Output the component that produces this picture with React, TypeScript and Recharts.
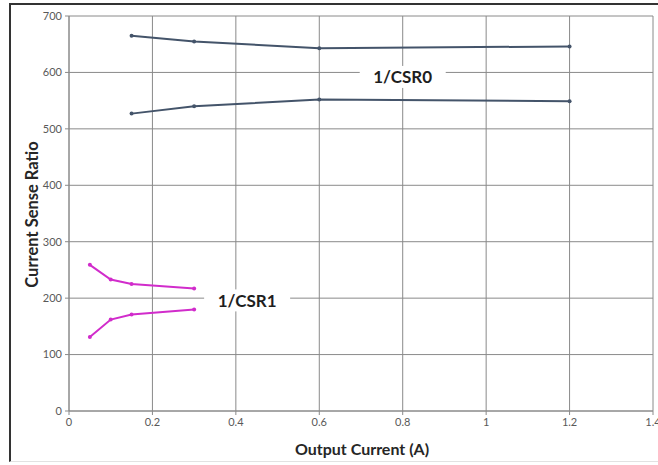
import { LineChart, Line, XAxis, YAxis, CartesianGrid, ReferenceDot, Label } from "recharts";

// 1/CSR0 – two curves (upper and lower bound)
const csr0Upper = [
  { x: 0.15, y: 665 },
  { x: 0.3, y: 655 },
  { x: 0.6, y: 643 },
  { x: 1.2, y: 646 },
];
const csr0Lower = [
  { x: 0.15, y: 527 },
  { x: 0.3, y: 540 },
  { x: 0.6, y: 552 },
  { x: 1.2, y: 549 },
];

// 1/CSR1 – two curves
const csr1Upper = [
  { x: 0.05, y: 259 },
  { x: 0.1, y: 233 },
  { x: 0.15, y: 225 },
  { x: 0.3, y: 217 },
];
const csr1Lower = [
  { x: 0.05, y: 131 },
  { x: 0.1, y: 162 },
  { x: 0.15, y: 171 },
  { x: 0.3, y: 180 },
];

const xTicks = [0, 0.2, 0.4, 0.6, 0.8, 1, 1.2, 1.4];
const yTicks = [0, 100, 200, 300, 400, 500, 600, 700];

const annotations = [
  { x: 0.8, y: 592, text: "1/CSR0" },
  { x: 0.427, y: 196, text: "1/CSR1" },
];

const GREY = "#44546a";
const MAGENTA = "#d12ccb";
const FONT = "Lato, 'Open Sans', sans-serif";

const AnnotationShape = (props: any) => {
  const { cx, cy, text } = props;
  const w = 86;
  const h = 22;
  return (
    <g>
      <rect x={cx - w / 2} y={cy - h / 2} width={w} height={h} fill="#fff" />
      <text
        x={cx}
        y={cy}
        textAnchor="middle"
        dominantBaseline="central"
        fontFamily={FONT}
        fontWeight="bold"
        fontSize={17}
        fill="#1e1e1e"
      >
        {text}
      </text>
    </g>
  );
};

const YTitle = (props: any) => {
  const { x, y, height } = props.viewBox;
  const cx = x + 22;
  const cy = y + height / 2 + 1;
  return (
    <text
      x={cx}
      y={cy}
      transform={`rotate(-90 ${cx} ${cy})`}
      textAnchor="middle"
      dominantBaseline="central"
      fontFamily={FONT}
      fontWeight="bold"
      fontSize={16.5}
      fill="#262626"
    >
      Current Sense Ratio
    </text>
  );
};

const XTitle = (props: any) => {
  const { x, y, width } = props.viewBox;
  const cx = x + width / 2 + 1;
  const cy = y + 37;
  return (
    <text
      x={cx}
      y={cy}
      textAnchor="middle"
      dominantBaseline="central"
      fontFamily={FONT}
      fontWeight="bold"
      fontSize={16}
      fill="#262626"
    >
      Output Current (A)
    </text>
  );
};

const tickStyle = { fontFamily: FONT, fontSize: 11, fill: "#595959" };

export default function App() {
  const lines = [
    { key: "c0u", data: csr0Upper, color: GREY },
    { key: "c0l", data: csr0Lower, color: GREY },
    { key: "c1u", data: csr1Upper, color: MAGENTA },
    { key: "c1l", data: csr1Lower, color: MAGENTA },
  ];

  return (
    <div
      style={{
        position: "absolute",
        left: 0,
        top: 0,
        width: 658,
        height: 465,
        background: "#fff",
        overflow: "hidden",
      }}
    >
      <div
        style={{
          position: "absolute",
          left: 9,
          top: 3,
          width: 700,
          height: 456,
          borderLeft: "2px solid #333",
          borderTop: "2px solid #333",
          borderBottom: "1px solid #e2e2e2",
        }}
      />
      <div style={{ position: "absolute", left: 0, top: 0 }}>
        <LineChart
          width={658}
          height={465}
          margin={{ top: 16, right: 5, bottom: 14, left: 10 }}
        >
          <CartesianGrid stroke="#8a8a8a" strokeWidth={1} />
          <XAxis
            type="number"
            dataKey="x"
            domain={[0, 1.4]}
            ticks={xTicks}
            interval={0}
            height={40}
            tick={tickStyle}
            tickSize={4}
            tickMargin={3}
            stroke="#8a8a8a"
            allowDuplicatedCategory={false}
          >
            <Label content={XTitle} />
          </XAxis>
          <YAxis
            type="number"
            dataKey="y"
            domain={[0, 700]}
            ticks={yTicks}
            interval={0}
            width={59}
            tick={tickStyle}
            tickSize={4}
            tickMargin={3}
            stroke="#8a8a8a"
          >
            <Label content={YTitle} />
          </YAxis>
          {lines.map((l) => (
            <Line
              key={l.key}
              data={l.data}
              dataKey="y"
              type="linear"
              stroke={l.color}
              strokeWidth={2}
              dot={{ r: 2, fill: l.color, stroke: l.color, strokeWidth: 0 }}
              activeDot={false}
              isAnimationActive={false}
            />
          ))}
          {annotations.map((a) => (
            <ReferenceDot
              key={a.text}
              x={a.x}
              y={a.y}
              r={0}
              shape={(p: any) => <AnnotationShape {...p} text={a.text} />}
            />
          ))}
        </LineChart>
      </div>
    </div>
  );
}
